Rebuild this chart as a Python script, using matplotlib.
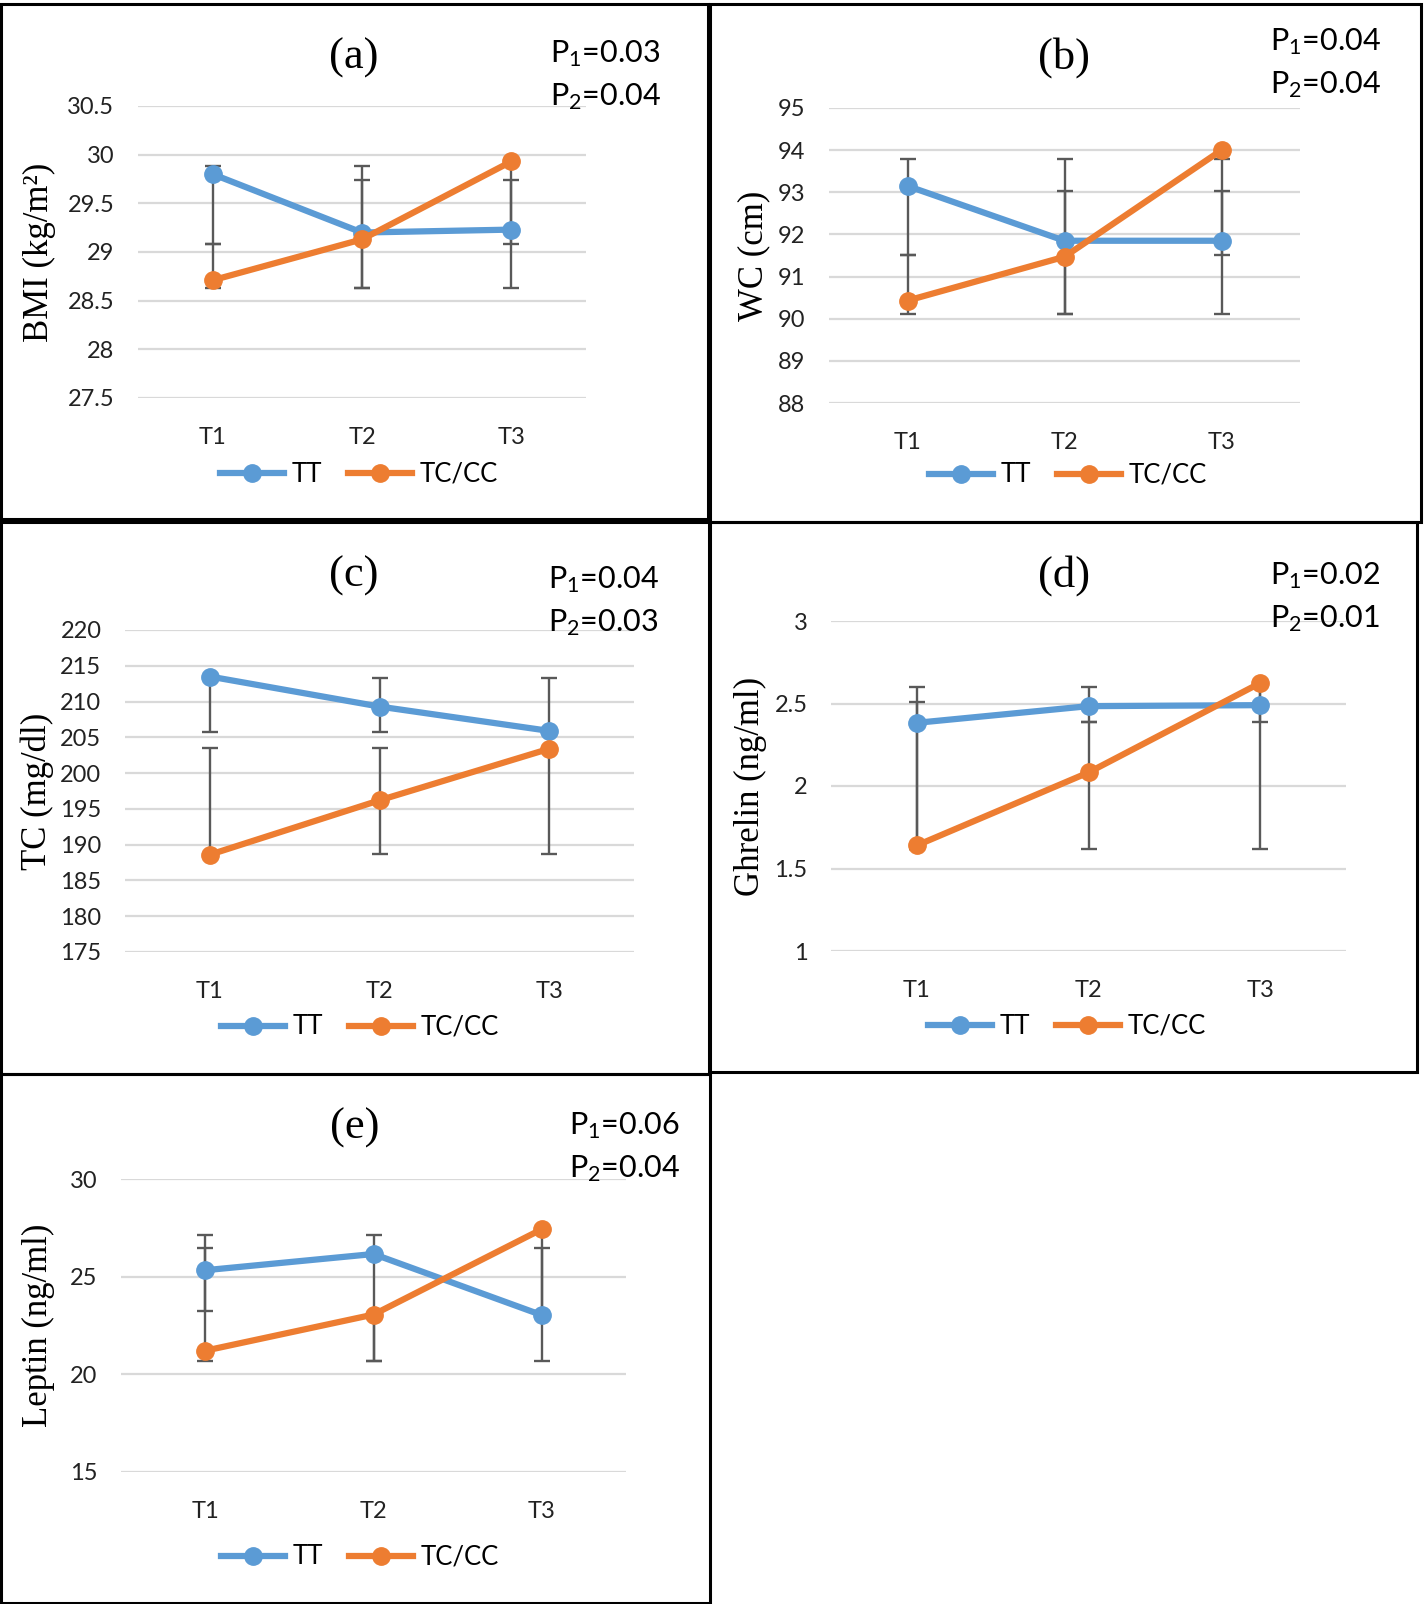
import numpy as np
import matplotlib
matplotlib.use('Agg')
import matplotlib.pyplot as plt
from matplotlib import font_manager
from matplotlib.patches import Rectangle

# data
times = ['T1', 'T2', 'T3']
series_names = ['TT', 'TC/CC']

bmi_tt = [29.80, 29.20, 29.23]
bmi_tc = [28.71, 29.13, 29.93]
bmi_tt_lo = [29.08, 28.63, 28.63]
bmi_tt_hi = [29.88, 29.88, 29.74]
bmi_tc_lo = [28.63, 28.63, 29.08]
bmi_tc_hi = [29.08, 29.74, 29.93]

wc_tt = [93.15, 91.85, 91.85]
wc_tc = [90.43, 91.47, 94.00]
wc_tt_lo = [91.51, 90.12, 90.12]
wc_tt_hi = [93.79, 93.79, 93.03]
wc_tc_lo = [90.12, 90.12, 91.51]
wc_tc_hi = [91.51, 93.03, 93.79]

chol_tt = [213.5, 209.3, 205.9]
chol_tc = [188.6, 196.2, 203.4]
chol_tt_lo = [205.8, 205.8, 205.8]
chol_tt_hi = [213.5, 213.3, 213.3]
chol_tc_lo = [188.7, 188.7, 188.7]
chol_tc_hi = [203.5, 203.5, 203.5]

ghr_tt = [2.383, 2.484, 2.490]
ghr_tc = [1.640, 2.082, 2.624]
ghr_tt_lo = [1.62, 2.39, 1.62]
ghr_tt_hi = [2.60, 2.60, 2.60]
ghr_tc_lo = [1.62, 1.62, 2.39]
ghr_tc_hi = [2.51, 2.39, 2.62]

lep_tt = [25.33, 26.16, 23.03]
lep_tc = [21.21, 23.06, 27.43]
lep_tt_lo = [23.24, 20.67, 20.67]
lep_tt_hi = [27.12, 27.12, 26.47]
lep_tc_lo = [20.67, 20.67, 23.24]
lep_tc_hi = [26.47, 23.06, 27.43]

labels = ['(a)', '(b)', '(c)', '(d)', '(e)']
ylabels = ['BMI (kg/m\u00b2)', 'WC (cm)', 'TC (mg/dl)', 'Ghrelin (ng/ml)', 'Leptin (ng/ml)']
p1_vals = ['0.03', '0.04', '0.04', '0.02', '0.06']
p2_vals = ['0.04', '0.04', '0.03', '0.01', '0.04']
yticks_all = [np.arange(27.5, 30.51, 0.5), np.arange(88, 95.1, 1),
              np.arange(175, 220.1, 5), np.arange(1, 3.01, 0.5), np.arange(15, 30.1, 5)]

# fonts
names = {f.name for f in font_manager.fontManager.ttflist}
sans = 'DejaVu Sans'
for cand in ['Liberation Sans Narrow', 'Lato', 'Open Sans']:
    if cand in names:
        sans = cand
        break
serif = 'Liberation Serif'
plt.rcParams['font.family'] = sans
plt.rcParams['mathtext.fontset'] = 'custom'
plt.rcParams['mathtext.rm'] = sans
plt.rcParams['mathtext.it'] = sans

W, H = 1424, 1604
fig = plt.figure(figsize=(W / 100, H / 100), dpi=100)

blue = '#5B9BD5'
orange = '#ED7D31'
grey_err = '#595959'

# panel layout in pixels
boxes = [(1, 4, 708, 519), (710, 4, 1421, 522), (1, 522, 709, 1074),
         (710, 522, 1417, 1072), (1, 1074, 710, 1603)]
plots = [(138, 106, 586, 398), (829, 108, 1300, 403), (125, 630, 634, 952),
         (831, 621, 1346, 951), (121, 1179, 626, 1472)]
titles_xy = [(354, 58), (1064, 58), (354, 576), (1064, 576), (355, 1128)]
p_xy = [(550, 54), (1270, 42), (548, 580), (1270, 576), (569, 1126)]
ylab_x = [39, 754, 37, 750, 38]
leg_xy = [(359, 474), (1068, 475), (360, 1027), (1067, 1026), (360, 1557)]

panel_data = [
    (bmi_tt, bmi_tc, bmi_tt_lo, bmi_tt_hi, bmi_tc_lo, bmi_tc_hi),
    (wc_tt, wc_tc, wc_tt_lo, wc_tt_hi, wc_tc_lo, wc_tc_hi),
    (chol_tt, chol_tc, chol_tt_lo, chol_tt_hi, chol_tc_lo, chol_tc_hi),
    (ghr_tt, ghr_tc, ghr_tt_lo, ghr_tt_hi, ghr_tc_lo, ghr_tc_hi),
    (lep_tt, lep_tc, lep_tt_lo, lep_tt_hi, lep_tc_lo, lep_tc_hi),
]


def fx(px):
    return px / W


def fy(py):
    return 1 - py / H


for i in range(5):
    bx0, by0, bx1, by1 = boxes[i]
    fig.add_artist(Rectangle((fx(bx0), fy(by1)), fx(bx1 - bx0), (by1 - by0) / H,
                             transform=fig.transFigure, fill=False, ec='black', lw=2.2))
    x0, y0, x1, y1 = plots[i]
    ax = fig.add_axes([fx(x0), fy(y1), fx(x1 - x0), (y1 - y0) / H])
    tt, tc, tt_lo, tt_hi, tc_lo, tc_hi = panel_data[i]
    x = np.arange(len(times))
    # error bars drawn as low/high whiskers
    for lo, hi in [(tt_lo, tt_hi), (tc_lo, tc_hi)]:
        ax.vlines(x, lo, hi, color=grey_err, lw=1.7, zorder=2)
        ax.plot(x, lo, ls='none', marker='_', ms=11, mew=1.7, color=grey_err, zorder=2)
        ax.plot(x, hi, ls='none', marker='_', ms=11, mew=1.7, color=grey_err, zorder=2)
    ax.plot(x, tt, color=blue, lw=4.5, marker='o', ms=12.5, label=series_names[0], zorder=3)
    ax.plot(x, tc, color=orange, lw=4.5, marker='o', ms=12.5, label=series_names[1], zorder=4)

    yt = yticks_all[i]
    ax.set_ylim(yt[0], yt[-1])
    ax.set_yticks(yt)
    ax.set_yticklabels(['{:g}'.format(v) for v in yt])
    ax.set_xlim(-0.5, len(times) - 0.5)
    ax.set_xticks(x)
    ax.set_xticklabels(times)
    ax.grid(axis='y', color='#D9D9D9', lw=1.6)
    ax.set_axisbelow(True)
    for s in ax.spines.values():
        s.set_visible(False)
    ax.tick_params(axis='both', length=0, labelsize=17, colors='#222222')
    ax.tick_params(axis='y', pad=17)
    ax.tick_params(axis='x', pad=21)
    ax.patch.set_alpha(0)

    tx, ty = titles_xy[i]
    fig.text(fx(tx), fy(ty), labels[i], family=serif, fontsize=32, ha='center', va='center')
    px, py = p_xy[i]
    fig.text(fx(px), fy(py), 'P$_1$=' + p1_vals[i], fontsize=22, ha='left', va='center')
    fig.text(fx(px), fy(py + 43), 'P$_2$=' + p2_vals[i], fontsize=22, ha='left', va='center')
    fig.text(fx(ylab_x[i]), fy((y0 + y1) / 2), ylabels[i], family=serif, fontsize=25,
             rotation=90, ha='center', va='center')
    lx, ly = leg_xy[i]
    ax.legend(loc='center', bbox_to_anchor=(fx(lx), fy(ly)),
              bbox_transform=fig.transFigure, ncol=2, frameon=False, fontsize=18.5,
              handlelength=2.5, handletextpad=0.3, columnspacing=1.0)

fig.savefig('out.png', dpi=100)
